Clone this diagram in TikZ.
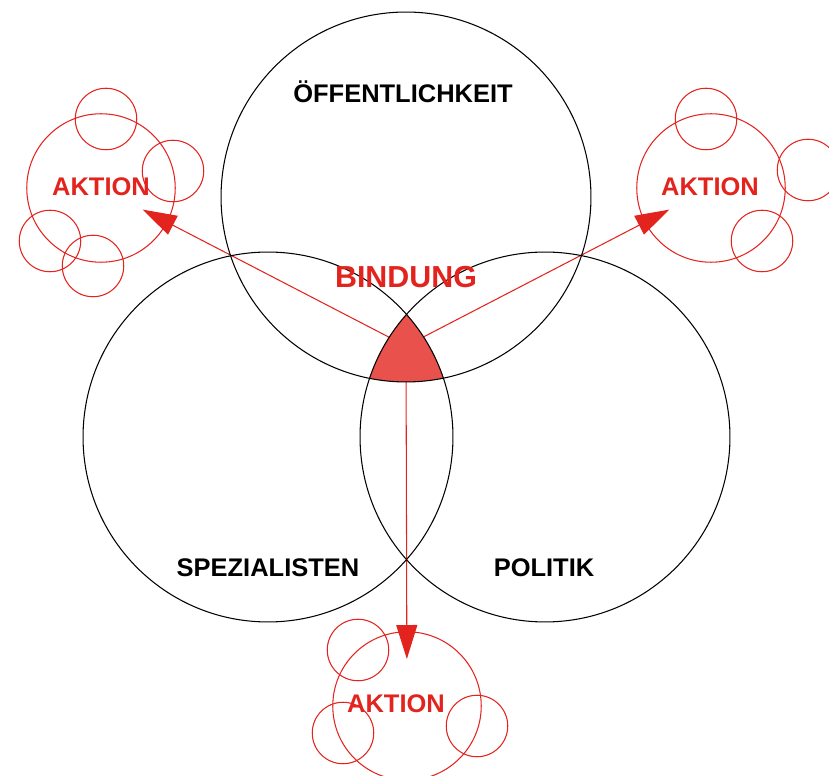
\documentclass[tikz,border=0pt]{standalone}
\usepackage{fontspec}
\setmainfont{Liberation Sans}
\usepackage{xcolor}
\usepackage{tikz}
\usetikzlibrary{arrows.meta,positioning}

\definecolor{aktionrot}{RGB}{227,36,30}
\definecolor{bindungrot}{RGB}{233,82,76}

\begin{document}
\begin{tikzpicture}[
        x=0.02cm, y=-0.02cm,
        ring/.style={circle, draw=black, line width=0.6pt, minimum size=7.4cm, inner sep=0pt},
        aktion/.style={circle, draw=aktionrot, line width=0.6pt, minimum size=2.97cm, inner sep=0pt},
        bubble/.style={circle, draw=aktionrot, line width=0.6pt, minimum size=1.23cm, inner sep=0pt},
        feldtext/.style={anchor=base, font=\fontsize{14.5}{17}\selectfont\bfseries},
        aktiontext/.style={anchor=base, text=aktionrot, font=\fontsize{14.5}{17}\selectfont\bfseries},
        arrow/.style={-{Triangle[length=6.8mm, width=4.2mm]}, draw=aktionrot, line width=0.6pt, shorten >=0.94cm}
    ]
    \useasboundingbox (0,0) rectangle (829,776);

    % Centres of the three fields
    \coordinate (cOeff) at (406,197);
    \coordinate (cSpez) at (268,437);
    \coordinate (cPol) at (545,437);
    \coordinate (bind) at (406,346);

    % Action clusters
    \node[aktion] (akL) at (101,188) {};
    \node[bubble] (akL1) at (106,119) {};
    \node[bubble] (akL2) at (173,171) {};
    \node[bubble] (akL3) at (50,241) {};
    \node[bubble] (akL4) at (93,266) {};

    \node[aktion] (akR) at (711,188) {};
    \node[bubble] (akR1) at (706,119) {};
    \node[bubble] (akR2) at (808,170) {};
    \node[bubble] (akR3) at (762,241) {};

    \node[aktion] (akU) at (407,706) {};
    \node[bubble] (akU1) at (358,650) {};
    \node[bubble] (akU2) at (343,733) {};
    \node[bubble] (akU3) at (477,726) {};

    % Arrows
    \draw[arrow] (bind) -- (akL.center);
    \draw[arrow] (bind) -- (akR.center);
    \draw[arrow] (bind) -- (akU.center);

    % Binding area
    \begin{scope}
        \clip (cOeff) circle (3.7cm);
        \clip (cSpez) circle (3.7cm);
        \fill[bindungrot] (cPol) circle (3.7cm);
    \end{scope}

    % Fields
    \node[ring] (oeff) at (cOeff) {};
    \node[ring] (spez) at (cSpez) {};
    \node[ring] (pol) at (cPol) {};

    % Texts
    \node[feldtext] (toeff) at (403,103) {ÖFFENTLICHKEIT};
    \node[feldtext] (tspez) at (268,577) {SPEZIALISTEN};
    \node[feldtext] (tpol) at (544,577) {POLITIK};
    \node[anchor=base, text=aktionrot, font=\fontsize{17.3}{20}\selectfont\bfseries] (tbind) at (406,288) {BINDUNG};
    \node[aktiontext] (takL) at (101,196) {AKTION};
    \node[aktiontext] (takR) at (710,196) {AKTION};
    \node[aktiontext] (takU) at (396,713) {AKTION};

\end{tikzpicture}
\end{document}
